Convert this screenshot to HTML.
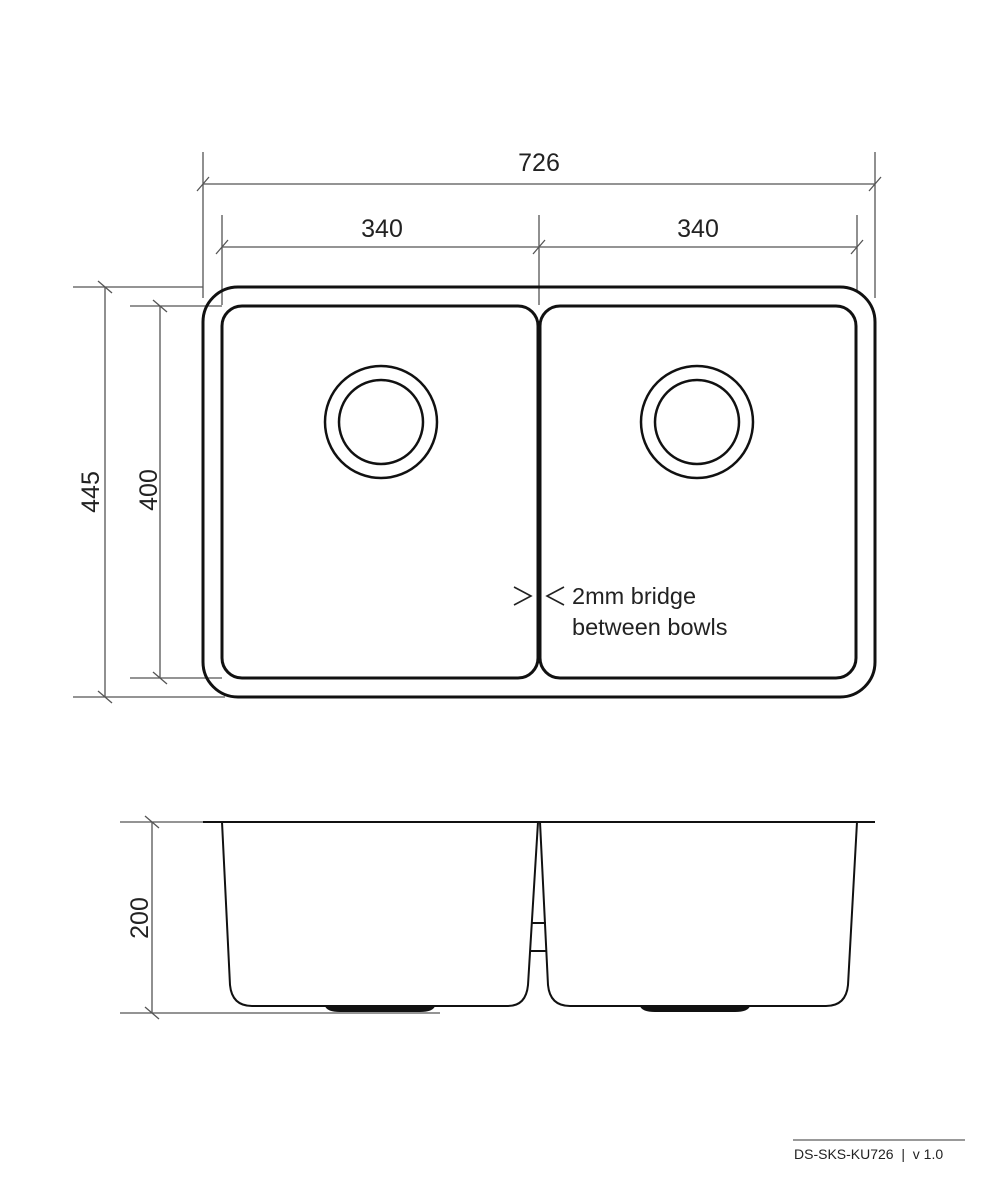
<!DOCTYPE html>
<html><head><meta charset="utf-8"><style>
html,body{margin:0;padding:0;background:#fff;}
svg{display:block;}
text{font-family:"Liberation Sans",sans-serif;fill:#222;}
</style></head><body>
<svg width="1005" height="1200" viewBox="0 0 1005 1200" xmlns="http://www.w3.org/2000/svg">
<g stroke="#555" stroke-width="1.3" fill="none">
  <line x1="203" y1="152" x2="203" y2="298"/>
  <line x1="875" y1="152" x2="875" y2="298"/>
  <line x1="203" y1="184" x2="875" y2="184"/>
  <line x1="197" y1="191" x2="209" y2="177"/>
  <line x1="869" y1="191" x2="881" y2="177"/>
  <line x1="222" y1="215" x2="222" y2="305"/>
  <line x1="539" y1="215" x2="539" y2="305"/>
  <line x1="857" y1="215" x2="857" y2="292"/>
  <line x1="222" y1="247" x2="857" y2="247"/>
  <line x1="216" y1="254" x2="228" y2="240"/>
  <line x1="533" y1="254" x2="545" y2="240"/>
  <line x1="851" y1="254" x2="863" y2="240"/>
  <line x1="73" y1="287" x2="203" y2="287"/>
  <line x1="73" y1="697" x2="225" y2="697"/>
  <line x1="105" y1="287" x2="105" y2="697"/>
  <line x1="98" y1="281" x2="112" y2="293"/>
  <line x1="98" y1="691" x2="112" y2="703"/>
  <line x1="130" y1="306" x2="222" y2="306"/>
  <line x1="130" y1="678" x2="222" y2="678"/>
  <line x1="160" y1="306" x2="160" y2="678"/>
  <line x1="153" y1="300" x2="167" y2="312"/>
  <line x1="153" y1="672" x2="167" y2="684"/>
  <line x1="120" y1="822" x2="203" y2="822"/>
  <line x1="120" y1="1013" x2="440" y2="1013"/>
  <line x1="152" y1="822" x2="152" y2="1013"/>
  <line x1="145" y1="816" x2="159" y2="828"/>
  <line x1="145" y1="1007" x2="159" y2="1019"/>
</g>
<g stroke="#111" stroke-width="3" fill="none">
  <rect x="203" y="287" width="672" height="410" rx="35" ry="35"/>
  <rect x="222" y="306" width="316" height="372" rx="20" ry="20"/>
  <rect x="540" y="306" width="316" height="372" rx="20" ry="20"/>
</g>
<g stroke="#111" stroke-width="2.5" fill="none">
  <circle cx="381" cy="422" r="56"/>
  <circle cx="381" cy="422" r="42"/>
  <circle cx="697" cy="422" r="56"/>
  <circle cx="697" cy="422" r="42"/>
</g>
<g stroke="#111" stroke-width="2" fill="none">
  <line x1="203" y1="822" x2="875" y2="822"/>
  <path d="M222 822 L230 985 Q232 1006 252 1006 L508 1006 Q526 1006 528 985 L538 822"/>
  <path d="M540 822 L548 985 Q550 1006 570 1006 L826 1006 Q846 1006 848 985 L857 822"/>
  <line x1="532" y1="923" x2="546" y2="923"/>
  <line x1="531" y1="951" x2="547" y2="951"/>
</g>
<path d="M325 1006 L435 1006 Q433 1012 420 1012 L340 1012 Q327 1012 325 1006Z" fill="#111"/>
<path d="M640 1006 L750 1006 Q748 1012 735 1012 L655 1012 Q642 1012 640 1006Z" fill="#111"/>
<g stroke="#222" stroke-width="1.6" fill="none">
  <polyline points="514,587 531,596 514,605"/>
  <polyline points="564,587 547,596 564,605"/>
</g>
<text x="539" y="171" font-size="25" text-anchor="middle">726</text>
<text x="382" y="237" font-size="25" text-anchor="middle">340</text>
<text x="698" y="237" font-size="25" text-anchor="middle">340</text>
<text transform="translate(99,492) rotate(-90)" font-size="25" text-anchor="middle">445</text>
<text transform="translate(157,490) rotate(-90)" font-size="25" text-anchor="middle">400</text>
<text transform="translate(148,918) rotate(-90)" font-size="25" text-anchor="middle">200</text>
<text x="572" y="604" font-size="23.5">2mm bridge</text>
<text x="572" y="635" font-size="23.5">between bowls</text>
<line x1="793" y1="1140" x2="965" y2="1140" stroke="#333" stroke-width="1"/>
<text x="794" y="1159" font-size="14" xml:space="preserve">DS-SKS-KU726  |  v 1.0</text>
</svg>
</body></html>
